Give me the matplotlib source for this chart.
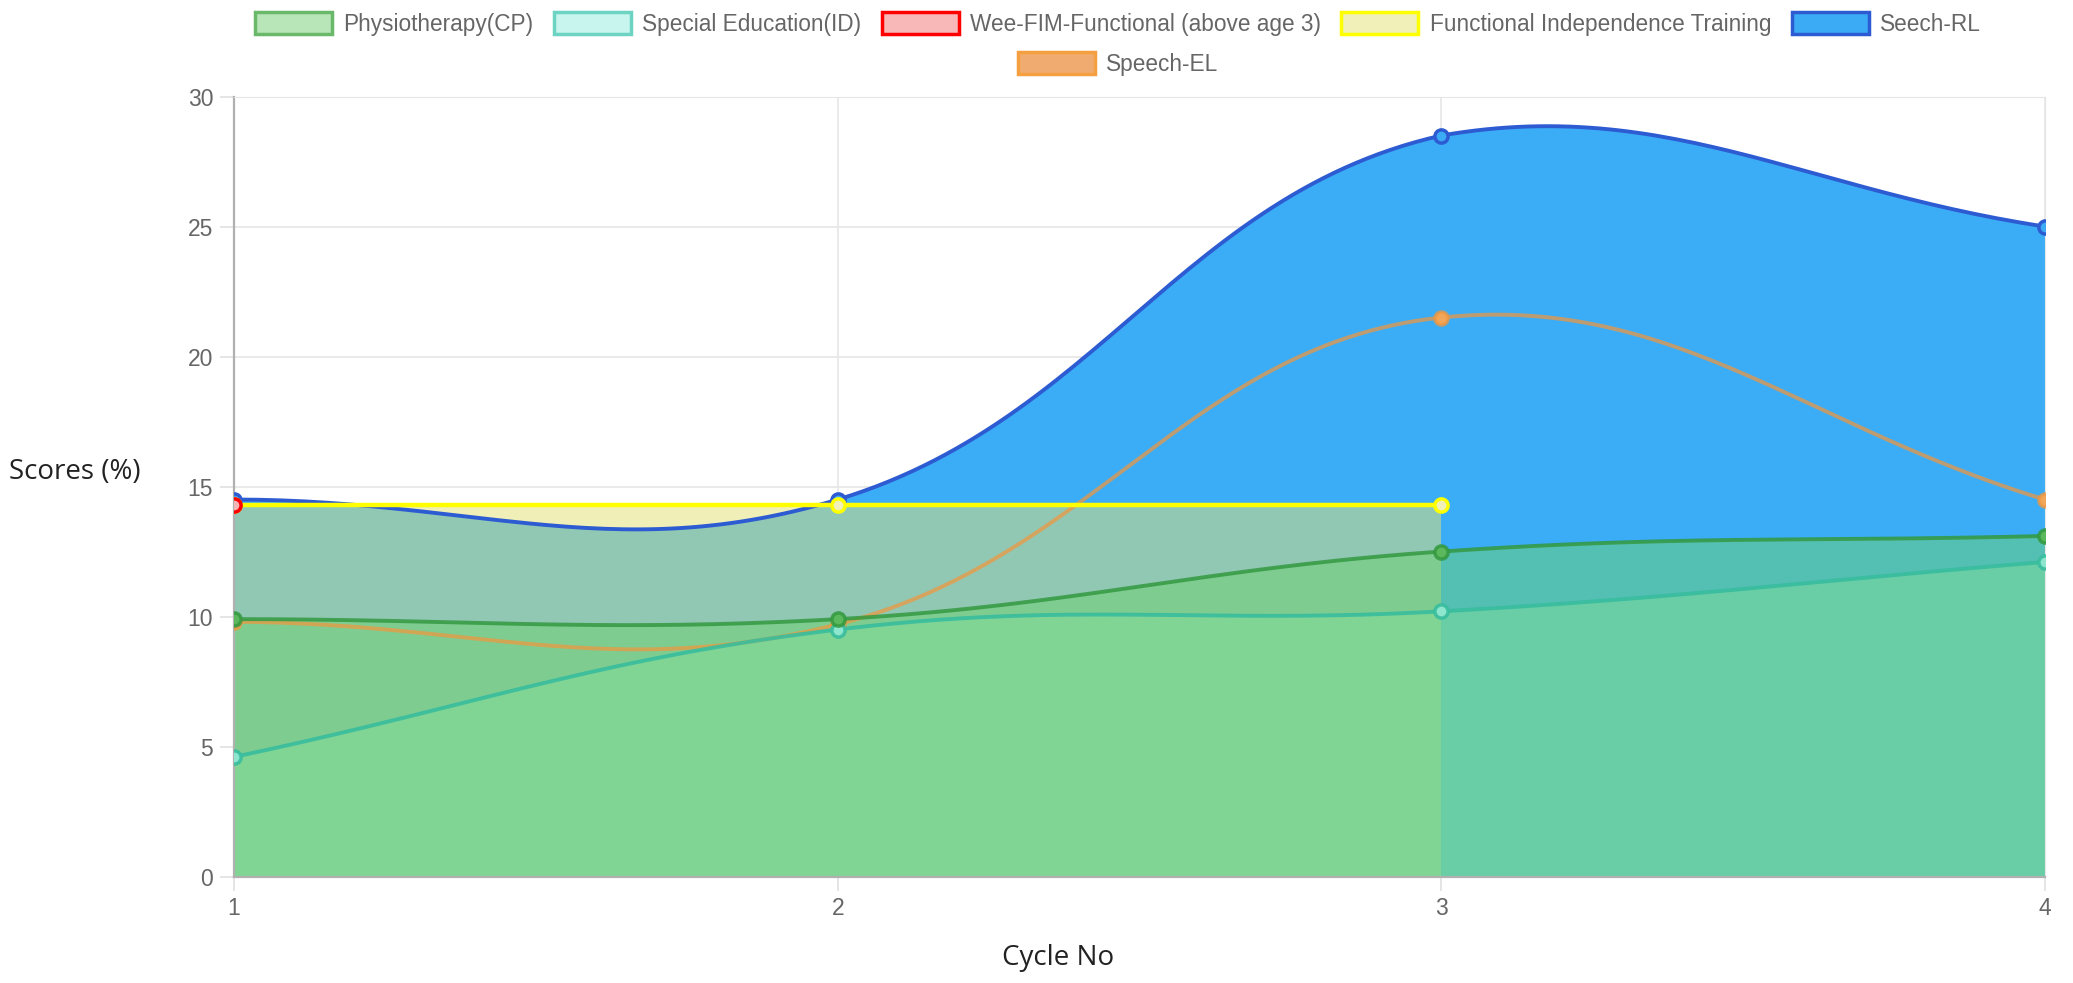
import numpy as np
import matplotlib.pyplot as plt
from matplotlib.patches import Patch

cycles = [1, 2, 3, 4]
physio = [9.9, 9.9, 12.5, 13.1]
special_ed = [4.6, 9.5, 10.2, 12.1]
wee_fim = [14.3]
fit = [14.3, 14.3, 14.3]
speech_rl = [14.5, 14.5, 28.5, 25.0]
speech_el = [9.8, 9.7, 21.5, 14.5]

labels = ["Physiotherapy(CP)", "Special Education(ID)", "Wee-FIM-Functional (above age 3)",
          "Functional Independence Training", "Seech-RL", "Speech-EL"]

# pixel scale of one data unit, used so the curve bends like chart.js does
SX, SY = 603.7, 26.0


def spline(x, y, tension=0.4, n=60):
    px = np.asarray(x, float) * SX
    py = np.asarray(y, float) * SY
    k = len(px)
    cp_prev = np.zeros((k, 2))
    cp_next = np.zeros((k, 2))
    for i in range(k):
        a = max(i - 1, 0)
        b = min(i + 1, k - 1)
        d01 = np.hypot(px[i] - px[a], py[i] - py[a])
        d12 = np.hypot(px[b] - px[i], py[b] - py[i])
        tot = d01 + d12
        s01 = d01 / tot if tot else 0
        s12 = d12 / tot if tot else 0
        fa, fb = tension * s01, tension * s12
        cp_prev[i] = (px[i] - fa * (px[b] - px[a]), py[i] - fa * (py[b] - py[a]))
        cp_next[i] = (px[i] + fb * (px[b] - px[a]), py[i] + fb * (py[b] - py[a]))
    cp_prev[:, 1] = np.clip(cp_prev[:, 1], 0, 30 * SY)
    cp_next[:, 1] = np.clip(cp_next[:, 1], 0, 30 * SY)
    t = np.linspace(0, 1, n)[:, None]
    out = []
    for i in range(k - 1):
        p0 = np.array([px[i], py[i]])
        p3 = np.array([px[i + 1], py[i + 1]])
        p1, p2 = cp_next[i], cp_prev[i + 1]
        seg = (1 - t) ** 3 * p0 + 3 * (1 - t) ** 2 * t * p1 + 3 * (1 - t) * t ** 2 * p2 + t ** 3 * p3
        out.append(seg if i == 0 else seg[1:])
    pts = np.vstack(out)
    return pts[:, 0] / SX, pts[:, 1] / SY


fig = plt.figure(figsize=(20.73, 9.83), dpi=100)
ax = fig.add_axes([0.1129, 0.1083, 0.8736, 0.7935])

series = [
    # values, fill rgba, line colour, marker face
    (physio, (110/255, 209/255, 113/255, 0.5), (0.20, 0.60, 0.25, 0.85), '#5cb85c'),
    (special_ed, (150/255, 238/255, 190/255, 0.47), (0.22, 0.74, 0.62, 0.9), '#8fe6cf'),
    (wee_fim, None, '#ff0000', '#f5b5b5'),
    (fit, (226/255, 226/255, 118/255, 0.52), '#ffff00', '#f0f0b8'),
    (speech_rl, (59/255, 173/255, 247/255, 1.0), '#2d5bd2', '#3cabf5'),
    (speech_el, None, (0.94, 0.59, 0.24, 0.72), '#f2a65a'),
]

curves = []
for vals, fc, lc, mf in series:
    xs = cycles[:len(vals)]
    if len(vals) > 1:
        curves.append(spline(xs, vals))
    else:
        curves.append((np.array(xs, float), np.array(vals, float)))

# fills first, last dataset at the bottom
for (vals, fc, lc, mf), (cx, cy) in reversed(list(zip(series, curves))):
    if fc is None or len(vals) < 2:
        continue
    px = np.concatenate([cx, [cx[-1], cx[0]]])
    py = np.concatenate([cy, [0, 0]])
    ax.fill(px, py, color=fc, lw=0, zorder=2)

for (vals, fc, lc, mf), (cx, cy) in reversed(list(zip(series, curves))):
    xs = cycles[:len(vals)]
    lw = 3.2 if lc == '#ffff00' else 2.8
    if len(vals) > 1:
        ax.plot(cx, cy, color=lc, lw=lw, zorder=3, solid_capstyle='round')
    ax.plot(xs, vals, ls='none', marker='o', ms=9.5, mfc=mf, mec=lc, mew=2.5, zorder=4)

ax.set_xlim(1, 4)
ax.set_ylim(0, 30)
ax.set_xticks(cycles)
ax.set_yticks(range(0, 31, 5))
ax.set_axisbelow(True)
ax.grid(color='#e6e6e6', lw=1.2)
ax.tick_params(length=10, width=1.2, color='#e0e0e0', labelsize=16.5, labelcolor='#666666', pad=5)
for lab in ax.get_xticklabels() + ax.get_yticklabels():
    lab.set_fontfamily('Liberation Sans')
for s in ['top', 'right']:
    ax.spines[s].set_color('#e6e6e6')
for s in ['left', 'bottom']:
    ax.spines[s].set_color('#b0b0b0')
    ax.spines[s].set_linewidth(1.6)

fig.text(75 / 2073, 1 - 472 / 983, "Scores (%)", fontsize=20, family='Open Sans',
         color='#222222', ha='center', va='center')
fig.text(1058 / 2073, 1 - 958 / 983, "Cycle No", fontsize=20, family='Open Sans',
         color='#222222', ha='center', va='center')

swatch_face = ['#b8e6b8', '#c8f5ee', '#f8b8b8', '#f0f0b8', '#3cabf5', '#f0ac70']
swatch_edge = ['#6ab86a', '#6dd3c3', '#ff0000', '#ffff00', '#2d5bd2', '#f5a040']
handles = [Patch(facecolor=f, edgecolor=e, lw=2.5, label=l)
           for f, e, l in zip(swatch_face, swatch_edge, labels)]

leg_kw = dict(frameon=False, prop={'family': 'Liberation Sans', 'size': 16.3},
              labelcolor='#666666', handlelength=3.4, handleheight=1.1,
              handletextpad=0.5, columnspacing=0.9, borderpad=0, borderaxespad=0)
fig.legend(handles=handles[:5], ncol=5, loc='center',
           bbox_to_anchor=(1118 / 2073, 1 - 24 / 983), **leg_kw)
fig.legend(handles=handles[5:], ncol=1, loc='center',
           bbox_to_anchor=(1118 / 2073, 1 - 64 / 983), **leg_kw)

fig.savefig("out.png", dpi=100)
